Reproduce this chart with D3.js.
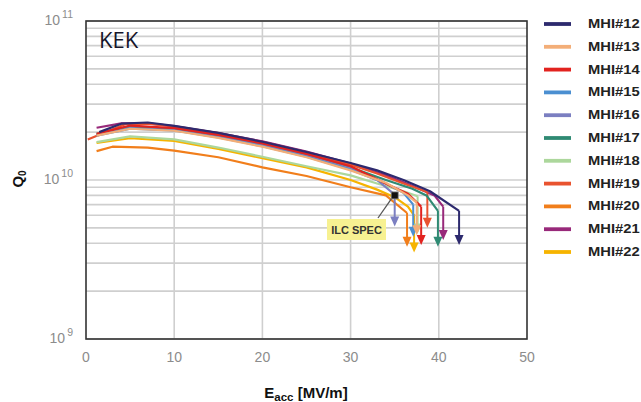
<!DOCTYPE html>
<html>
<head>
<meta charset="utf-8">
<script src="https://cdn.jsdelivr.net/npm/d3@7"></script>
<style>
  html, body { margin: 0; padding: 0; background: #fff; }
  svg { display: block; }
</style>
</head>
<body>
<svg id="chart" width="641" height="402"></svg>
<script>
// Cavity names and line colours
const cavities = ["MHI#12","MHI#13","MHI#14","MHI#15","MHI#16","MHI#17","MHI#18","MHI#19","MHI#20","MHI#21","MHI#22"];
const colors   = ["#2d2a6e","#f3ae78","#e2231f","#4b8fd1","#7b7fc1","#2f8a73","#acd79c","#e9532f","#f17e1b","#98297a","#f6b400"];

// Q0 curves: [Eacc (MV/m), Q0 in units of 1e10]
const q12 = [[1.5,2.0],[4,2.26],[7,2.3],[10,2.19],[15,1.98],[20,1.74],[25,1.5],[30,1.28],[33,1.15],[36,1.0],[39,0.85],[42.3,0.64]];
const q13 = [[1.2,1.9],[5,2.1],[10,2.04],[15,1.84],[20,1.62],[25,1.39],[30,1.15],[34,0.96],[36.5,0.8],[37.5,0.72]];
const q14 = [[1.2,1.95],[5,2.2],[10,2.12],[15,1.92],[20,1.7],[25,1.46],[30,1.22],[34.5,0.92],[36.5,0.82],[38,0.68]];
const q15 = [[1.2,1.9],[5,2.1],[10,2.05],[15,1.85],[20,1.63],[25,1.4],[30,1.16],[34,0.95],[36,0.83],[37.1,0.7]];
const q16 = [[1.2,1.92],[5,2.12],[10,2.06],[15,1.87],[20,1.65],[25,1.42],[30,1.18],[33,1.0],[35,0.81]];
const q17 = [[1.2,1.95],[5,2.16],[10,2.08],[15,1.9],[20,1.67],[25,1.44],[30,1.2],[34,1.0],[37,0.88],[38.6,0.8],[39.9,0.64]];
const q18 = [[1.2,1.73],[5,1.88],[10,1.8],[15,1.6],[20,1.4],[25,1.22],[30,1.07],[33,0.95],[36,0.85],[37.6,0.79]];
const q19 = [[0.2,1.8],[4.5,2.25],[7,2.26],[10,2.17],[15,1.97],[20,1.73],[25,1.49],[30,1.25],[33,1.1],[36,0.95],[38.7,0.84]];
const q20 = [[1.2,1.52],[3,1.62],[7,1.6],[10,1.53],[15,1.39],[20,1.2],[25,1.06],[30,0.9],[34,0.8],[36.4,0.62]];
const q21 = [[1.2,2.13],[4,2.27],[7,2.27],[10,2.18],[15,1.97],[20,1.75],[25,1.51],[30,1.27],[34,1.07],[37,0.92],[39.5,0.8],[40.5,0.68]];
const q22 = [[1.2,1.71],[5,1.83],[10,1.76],[15,1.57],[20,1.37],[25,1.2],[30,1.0],[33,0.87],[35,0.78],[36.5,0.68],[37.2,0.6]];
const curves = [q12,q13,q14,q15,q16,q17,q18,q19,q20,q21,q22];

// Quench arrows: Q0 (1e10) reached at the tip of the arrow below each curve's last point
const quenchTip = [0.39,0.45,0.39,0.44,0.51,0.38,0.46,0.5,0.38,0.42,0.35];

// ILC specification point
const ilcSpec = [35, 0.8];

// Axis ticks
const xTicks = [0,10,20,30,40,50];
const yDecades = [9,10,11];

const svg = d3.select("#chart");
const pL = 86, pR = 527, pT = 21, pB = 339;

const x = d3.scaleLinear().domain([0,50]).range([pL,pR]);
const y = d3.scaleLog().domain([1e9,1e11]).range([pB,pT]);

// Grid
const grid = svg.append("g");
grid.selectAll("line.h").data(y.ticks()).join("line")
  .attr("x1", pL).attr("x2", pR)
  .attr("y1", d => y(d)).attr("y2", d => y(d))
  .attr("stroke", "#cfcfcf").attr("stroke-width", 1.6);
grid.selectAll("line.v").data(xTicks.slice(1,-1)).join("line")
  .attr("x1", d => x(d)).attr("x2", d => x(d))
  .attr("y1", pT).attr("y2", pB)
  .attr("stroke", "#cfcfcf").attr("stroke-width", 1.6);

// Frame
svg.append("rect").attr("x", pL).attr("y", pT)
  .attr("width", pR-pL).attr("height", pB-pT)
  .attr("fill", "none").attr("stroke", "#333").attr("stroke-width", 1.6);

// X tick labels
svg.append("g").selectAll("text").data(xTicks).join("text")
  .attr("x", d => x(d)).attr("y", 362)
  .attr("text-anchor", "middle")
  .attr("font-family", "Liberation Sans, Arial, sans-serif")
  .attr("font-size", 14).attr("fill", "#8c8c8c")
  .text(d => d);

// Y tick labels as 10 with superscript exponent
const yl = svg.append("g");
yDecades.forEach(p => {
  const t = yl.append("text")
    .attr("x", 73).attr("y", y(Math.pow(10,p)) + 4)
    .attr("text-anchor", "end")
    .attr("font-family", "Liberation Sans, Arial, sans-serif")
    .attr("font-size", 14).attr("fill", "#8c8c8c");
  t.append("tspan").text("10");
  t.append("tspan").attr("dx", 2).attr("dy", -7).attr("font-size", 10.5).text(p);
});

// Axis titles
const xt = svg.append("text").attr("x", 306).attr("y", 398)
  .attr("text-anchor", "middle")
  .attr("font-family", "Liberation Sans, Arial, sans-serif")
  .attr("font-size", 15).attr("font-weight", "bold").attr("fill", "#111");
xt.append("tspan").text("E");
xt.append("tspan").attr("dy", 3).attr("font-size", 11.5).text("acc");
xt.append("tspan").attr("dy", -3).text(" [MV/m]");

const yt = svg.append("text")
  .attr("transform", "translate(23,179) rotate(-90)")
  .attr("text-anchor", "middle")
  .attr("font-family", "Liberation Sans, Arial, sans-serif")
  .attr("font-size", 15).attr("font-weight", "bold").attr("fill", "#111");
yt.append("tspan").text("Q");
yt.append("tspan").attr("dy", 3).attr("font-size", 10).text("0");

// Lab label
svg.append("text").attr("x", 99).attr("y", 48)
  .attr("font-family", "Open Sans, Liberation Sans, sans-serif")
  .attr("font-size", 22).attr("fill", "#15152a")
  .text("KEK");

// Curves and quench arrows
const line = d3.line().x(d => x(d[0])).y(d => y(d[1]*1e10));
const plot = svg.append("g");
for (let i = curves.length - 1; i >= 0; i--) {
  const c = curves[i], col = colors[i];
  plot.append("path").attr("d", line(c))
    .attr("fill", "none").attr("stroke", col).attr("stroke-width", 2.2)
    .attr("stroke-linejoin", "round");
  const last = c[c.length-1];
  const ax = x(last[0]), y0 = y(last[1]*1e10), y1 = y(quenchTip[i]*1e10);
  plot.append("line").attr("x1", ax).attr("x2", ax)
    .attr("y1", y0).attr("y2", y1 - 9)
    .attr("stroke", col).attr("stroke-width", 2);
  plot.append("path")
    .attr("d", `M${ax-4.5},${y1-10}L${ax+4.5},${y1-10}L${ax},${y1}Z`)
    .attr("fill", col);
}

// ILC SPEC marker and callout
const sx = x(ilcSpec[0]), sy = y(ilcSpec[1]*1e10);
svg.append("line").attr("x1", sx - 3).attr("y1", sy + 3)
  .attr("x2", 378).attr("y2", 218)
  .attr("stroke", "#555").attr("stroke-width", 1.3);
svg.append("rect").attr("x", sx - 3.5).attr("y", sy - 3.5)
  .attr("width", 7).attr("height", 7)
  .attr("fill", "#111").attr("stroke", "#888").attr("stroke-width", 0.8);
svg.append("rect").attr("x", 327).attr("y", 219).attr("width", 59).attr("height", 21)
  .attr("fill", "#f7f192");
svg.append("text").attr("x", 356.5).attr("y", 234)
  .attr("text-anchor", "middle")
  .attr("font-family", "Liberation Sans, Arial, sans-serif")
  .attr("font-size", 11).attr("font-weight", "bold").attr("fill", "#333")
  .text("ILC SPEC");

// Legend with wide bold labels
const lg = svg.append("g").selectAll("g").data(cavities).join("g")
  .attr("transform", (d,i) => `translate(0,${24 + i*22.8})`);
lg.append("line").attr("x1", 544).attr("x2", 571)
  .attr("stroke", (d,i) => colors[i]).attr("stroke-width", 3.8);
lg.append("text")
  .attr("transform", "translate(588,4) scale(1.18,1)")
  .attr("font-family", "Liberation Sans, Arial, sans-serif")
  .attr("font-size", 12.5).attr("font-weight", "bold").attr("fill", "#222")
  .text(d => d);
</script>
</body>
</html>
